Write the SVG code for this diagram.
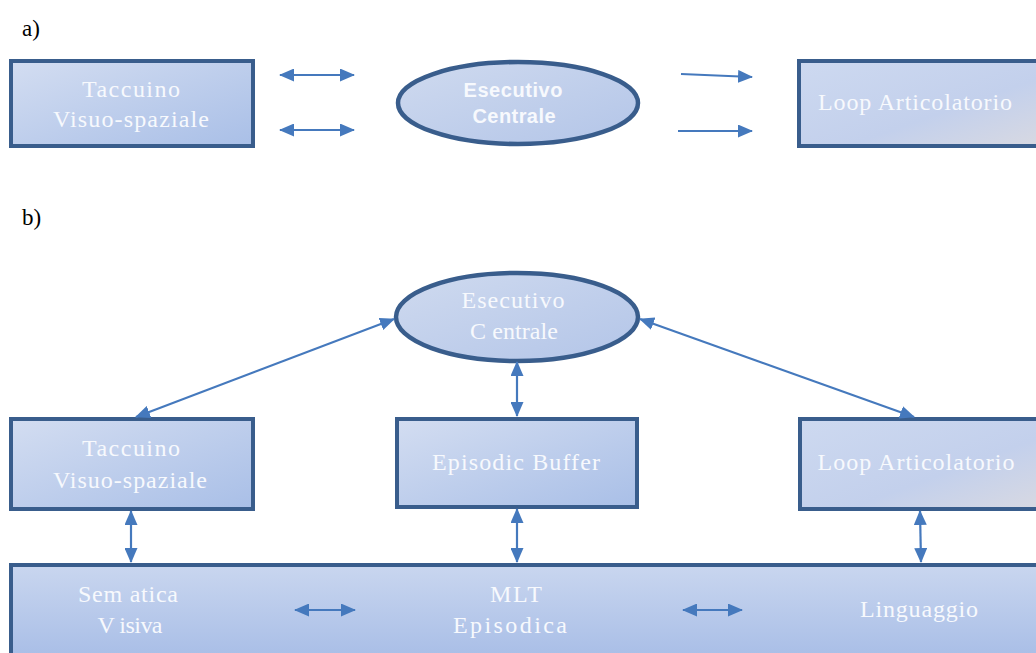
<svg xmlns="http://www.w3.org/2000/svg" width="1036" height="653" viewBox="0 0 1036 653">
  <defs>
    <linearGradient id="boxFill" x1="0" y1="0" x2="1" y2="1">
      <stop offset="0" stop-color="#d3ddf1"/>
      <stop offset="1" stop-color="#a9bfe7"/>
    </linearGradient>
    <linearGradient id="loopFill" x1="0" y1="0" x2="1" y2="1">
      <stop offset="0" stop-color="#cdd9f0"/>
      <stop offset="0.6" stop-color="#c3d0ec"/>
      <stop offset="1" stop-color="#d8d9e2"/>
    </linearGradient>
    <linearGradient id="ellFill" x1="0" y1="0" x2="1" y2="1">
      <stop offset="0" stop-color="#cfdaef"/>
      <stop offset="1" stop-color="#b3c5e8"/>
    </linearGradient>
    <linearGradient id="baseFill" x1="0" y1="0" x2="0" y2="1">
      <stop offset="0" stop-color="#c9d6ef"/>
      <stop offset="1" stop-color="#a6bce6"/>
    </linearGradient>
    <marker id="head" viewBox="0 0 15 13" refX="14" refY="6.5" markerWidth="15" markerHeight="13" markerUnits="userSpaceOnUse" orient="auto-start-reverse">
      <path d="M0,0 L15,6.5 L0,13 Z" fill="#4579bd"/>
    </marker>
    <style>
      .box { stroke: #395d8c; stroke-width: 4; }
      .ell { stroke: #395d8c; stroke-width: 4.5; fill: url(#ellFill); }
      .lbl { font-family: "Liberation Serif", "DejaVu Serif", serif; font-size: 24px; fill: #f7f9fd; text-anchor: middle; }
      .sans { font-family: "Liberation Sans", "Open Sans", sans-serif; font-weight: bold; font-size: 20px; fill: #f7f9fd; text-anchor: middle; }
      .tag { font-family: "Liberation Serif", serif; font-size: 23px; fill: #000; }
      .arr { stroke: #4579bd; stroke-width: 2.2; fill: none; }
      .two { marker-start: url(#head); marker-end: url(#head); }
      .one { marker-end: url(#head); }
    </style>
  </defs>

  <!-- section labels -->
  <text class="tag" x="22" y="36">a)</text>
  <text class="tag" x="22" y="225">b)</text>

  <!-- ===== model a ===== -->
  <g id="a-taccuino">
    <rect class="box" x="11" y="61" width="242" height="85" fill="url(#boxFill)"/>
    <text class="lbl" x="131" y="97" textLength="98" lengthAdjust="spacing">Taccuino</text>
    <text class="lbl" x="131" y="127" textLength="156" lengthAdjust="spacing">Visuo-spaziale</text>
  </g>
  <g id="a-esecutivo">
    <ellipse class="ell" cx="518" cy="103" rx="120" ry="41"/>
    <text class="sans" x="513" y="97" textLength="99" lengthAdjust="spacing">Esecutivo</text>
    <text class="sans" x="514" y="123" textLength="83" lengthAdjust="spacing">Centrale</text>
  </g>
  <g id="a-loop">
    <rect class="box" x="799" y="61" width="242" height="85" fill="url(#loopFill)"/>
    <text class="lbl" x="915" y="110" textLength="194" lengthAdjust="spacing">Loop Articolatorio</text>
  </g>

  <!-- ===== model b ===== -->
  <g id="b-esecutivo">
    <ellipse class="ell" cx="517" cy="317" rx="121" ry="44" stroke-width="5"/>
    <text class="lbl" x="513" y="308" textLength="103" lengthAdjust="spacing">Esecutivo</text>
    <text class="lbl" x="514" y="339" textLength="88" lengthAdjust="spacing">C entrale</text>
  </g>
  <g id="b-taccuino">
    <rect class="box" x="11" y="419" width="242" height="90" fill="url(#boxFill)"/>
    <text class="lbl" x="131" y="456" textLength="98" lengthAdjust="spacing">Taccuino</text>
    <text class="lbl" x="130" y="488" textLength="154" lengthAdjust="spacing">Visuo-spaziale</text>
  </g>
  <g id="b-episodic">
    <rect class="box" x="397" y="419" width="240" height="88" fill="url(#boxFill)"/>
    <text class="lbl" x="516" y="470" textLength="168" lengthAdjust="spacing">Episodic Buffer</text>
  </g>
  <g id="b-loop">
    <rect class="box" x="800" y="419" width="242" height="90" fill="url(#loopFill)"/>
    <text class="lbl" x="916" y="470" textLength="197" lengthAdjust="spacing">Loop Articolatorio</text>
  </g>
  <g id="b-mlt">
    <rect class="box" x="11" y="565" width="1032" height="100" fill="url(#baseFill)"/>
    <text class="lbl" x="128" y="602" textLength="100" lengthAdjust="spacing">Sem atica</text>
    <text class="lbl" x="130" y="633" textLength="65" lengthAdjust="spacing">V isiva</text>
    <text class="lbl" x="516" y="602" textLength="52" lengthAdjust="spacing">MLT</text>
    <text class="lbl" x="510" y="633" textLength="114" lengthAdjust="spacing">Episodica</text>
    <text class="lbl" x="919" y="617" textLength="118" lengthAdjust="spacing">Linguaggio</text>
  </g>

  <!-- connectors -->
  <g id="connectors">
    <!-- a -->
    <line class="arr two" x1="280" y1="75" x2="354" y2="75"/>
    <line class="arr two" x1="280" y1="130" x2="354" y2="130"/>
    <line class="arr one" x1="681" y1="74" x2="752" y2="77"/>
    <line class="arr one" x1="678" y1="131" x2="752" y2="131"/>
    <!-- b -->
    <line class="arr two" x1="394" y1="319" x2="136" y2="417" stroke-width="1.7"/>
    <line class="arr two" x1="640" y1="319" x2="914" y2="417" stroke-width="1.7"/>
    <line class="arr two" x1="517" y1="362" x2="517" y2="416"/>
    <line class="arr two" x1="131" y1="511" x2="131" y2="562"/>
    <line class="arr two" x1="517" y1="509" x2="517" y2="562"/>
    <line class="arr two" x1="920" y1="511" x2="921" y2="562"/>
    <line class="arr two" x1="295" y1="610" x2="355" y2="610"/>
    <line class="arr two" x1="683" y1="610" x2="742" y2="610"/>
  </g>
</svg>
